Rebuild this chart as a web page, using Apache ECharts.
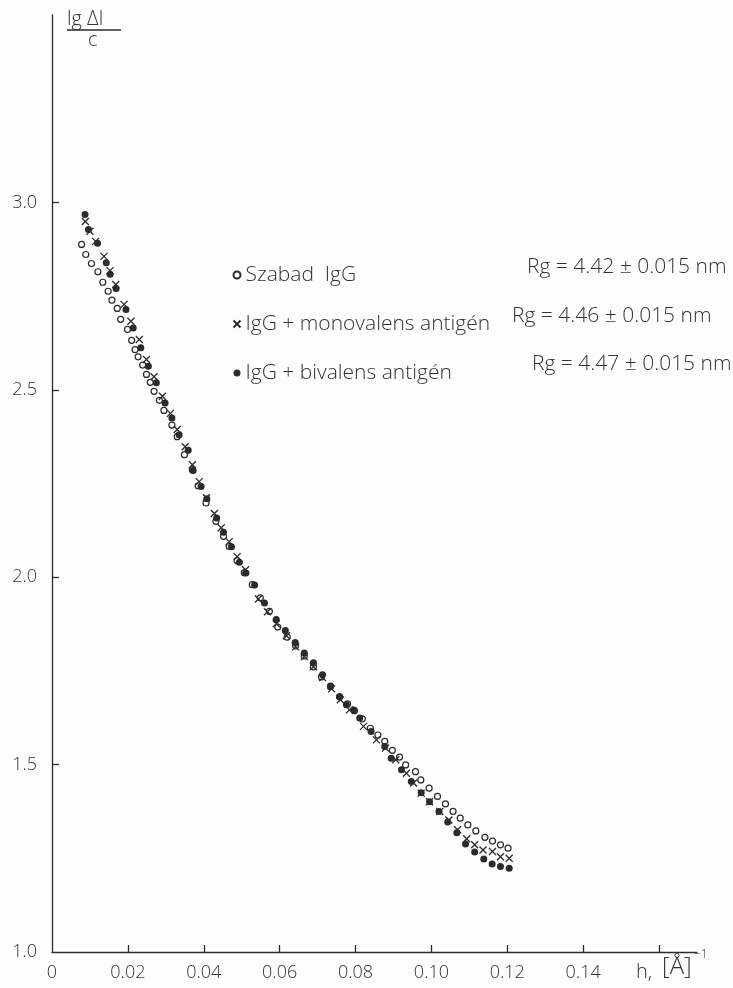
<!DOCTYPE html>
<html><head><meta charset="utf-8">
<script src="https://cdn.jsdelivr.net/npm/echarts@6/dist/echarts.min.js"></script>
<style>html,body{margin:0;padding:0;background:#fdfdfb}#c{width:733px;height:988px}</style>
</head><body><div id="c"></div>
<script>
// ---- data ----
const seriesNames = ['Szabad  IgG', 'IgG + monovalens antigén', 'IgG + bivalens antigén'];
const rgLabels = ['Rg = 4.42 ± 0.015 nm', 'Rg = 4.46 ± 0.015 nm', 'Rg = 4.47 ± 0.015 nm'];

const szabadX = [0.0078,0.0089,0.0104,0.0121,0.0134,0.0148,0.0158,0.0172,0.0181,0.0199,0.0210,0.0219,0.0227,0.0239,0.0249,0.0259,0.0269,0.0283,0.0295,0.0316,0.0330,0.0349,0.0370,0.0385,0.0406,0.0432,0.0452,0.0467,0.0488,0.0507,0.0528,0.0549,0.0573,0.0595,0.0620,0.0642,0.0665,0.0689,0.0710,0.0734,0.0758,0.0779,0.0797,0.0818,0.0839,0.0859,0.0877,0.0897,0.0916,0.0932,0.0958,0.0972,0.0994,0.1016,0.1037,0.1057,0.1076,0.1096,0.1117,0.1141,0.1161,0.1182,0.1202];
const szabadY = [2.888,2.861,2.837,2.815,2.787,2.763,2.739,2.717,2.688,2.661,2.632,2.607,2.588,2.566,2.541,2.520,2.496,2.472,2.445,2.406,2.375,2.327,2.287,2.244,2.198,2.149,2.109,2.082,2.044,2.012,1.980,1.945,1.909,1.867,1.840,1.817,1.790,1.761,1.734,1.708,1.681,1.662,1.644,1.622,1.597,1.579,1.562,1.538,1.520,1.499,1.481,1.459,1.437,1.415,1.395,1.375,1.357,1.339,1.323,1.306,1.296,1.286,1.277];

const monoX = [0.0088,0.0100,0.0115,0.0137,0.0153,0.0168,0.0190,0.0208,0.0230,0.0249,0.0269,0.0291,0.0312,0.0330,0.0351,0.0370,0.0388,0.0407,0.0428,0.0446,0.0467,0.0488,0.0510,0.0544,0.0568,0.0591,0.0618,0.0642,0.0665,0.0689,0.0713,0.0737,0.0760,0.0784,0.0821,0.0855,0.0879,0.0906,0.0934,0.0953,0.0973,0.0995,0.1022,0.1046,0.1069,0.1093,0.1114,0.1136,0.1161,0.1182,0.1205];
const monoY = [2.949,2.923,2.896,2.856,2.818,2.781,2.728,2.683,2.634,2.581,2.535,2.483,2.437,2.394,2.348,2.300,2.255,2.212,2.170,2.132,2.095,2.055,2.020,1.942,1.908,1.876,1.844,1.814,1.788,1.761,1.732,1.702,1.673,1.646,1.602,1.566,1.544,1.513,1.477,1.451,1.424,1.401,1.375,1.352,1.326,1.302,1.286,1.272,1.268,1.254,1.250];

const bivX = [0.0087,0.0096,0.0120,0.0143,0.0153,0.0169,0.0195,0.0214,0.0234,0.0254,0.0275,0.0298,0.0316,0.0335,0.0359,0.0372,0.0393,0.0408,0.0434,0.0452,0.0473,0.0494,0.0511,0.0534,0.0560,0.0591,0.0615,0.0641,0.0665,0.0689,0.0713,0.0734,0.0758,0.0776,0.0795,0.0811,0.0841,0.0877,0.0894,0.0921,0.0947,0.0973,0.0995,0.1020,0.1043,0.1067,0.1090,0.1114,0.1138,0.1160,0.1182,0.1205];
const bivY = [2.968,2.928,2.891,2.839,2.808,2.770,2.714,2.665,2.612,2.563,2.519,2.465,2.425,2.380,2.339,2.285,2.242,2.209,2.158,2.120,2.081,2.040,2.011,1.979,1.931,1.887,1.858,1.826,1.798,1.772,1.740,1.710,1.681,1.660,1.646,1.624,1.588,1.548,1.517,1.486,1.455,1.425,1.401,1.375,1.347,1.318,1.288,1.267,1.248,1.235,1.228,1.2235];

const xTickValues = [0.02,0.04,0.06,0.08,0.10,0.12,0.14,0.16];
const xLabelValues = [0,0.02,0.04,0.06,0.08,0.10,0.12,0.14];
const xTickLabels = ['0','0.02','0.04','0.06','0.08','0.10','0.12','0.14'];
const yTickValues = [1.5,2.0,2.5,3.0];
const yLabelValues = [1.0,1.5,2.0,2.5,3.0];
const yTickLabels = ['1.0','1.5','2.0','2.5','3.0'];

// ---- chart ----
const FONT = '"Open Sans", "DejaVu Sans", sans-serif';
const INK = '#2b2b2b';
const TXT = '#333333';
const zip = (a, b) => a.map((v, i) => [v, b[i]]);
const chart = echarts.init(document.getElementById('c'), null, {renderer: 'canvas'});
const lblFmt = (vals, labels) => (v) => {
  const i = vals.findIndex(t => Math.abs(t - v) < 1e-9);
  return i >= 0 ? labels[i] : '';
};
const xPath = 'path://M0,0L10,10M10,0L0,10';
chart.setOption({
  backgroundColor: '#fdfdfb',
  animation: false,
  textStyle: {fontFamily: FONT},
  grid: {left: 52, right: 36, top: 15, bottom: 36, containLabel: false},
  xAxis: {
    type: 'value', min: 0, max: 0.17,
    axisLine: {show: true, onZero: false, lineStyle: {color: INK, width: 1.3}},
    axisTick: {show: true, inside: true, length: 7, customValues: xTickValues, lineStyle: {color: INK, width: 1.3}},
    axisLabel: {customValues: xLabelValues, formatter: lblFmt(xLabelValues, xTickLabels), margin: 12,
      fontFamily: FONT, fontWeight: 300, fontSize: 18, color: TXT},
    splitLine: {show: false}
  },
  yAxis: {
    type: 'value', min: 1.0, max: 3.5,
    axisLine: {show: true, onZero: false, lineStyle: {color: INK, width: 1.3}},
    axisTick: {show: true, inside: true, length: 7, customValues: yTickValues, lineStyle: {color: INK, width: 1.3}},
    axisLabel: {customValues: yLabelValues, formatter: lblFmt(yLabelValues, yTickLabels), margin: 15,
      fontFamily: FONT, fontWeight: 300, fontSize: 18, color: TXT},
    splitLine: {show: false}
  },
  legend: {
    orient: 'vertical', left: 226, top: 258, itemGap: 25, itemWidth: 7, itemHeight: 7, itemTextGap: 30,
    selectedMode: false,
    data: seriesNames,
    textStyle: {fontFamily: FONT, fontWeight: 300, fontSize: 21, color: TXT, lineHeight: 24}
  },
  series: [
    {name: seriesNames[0], type: 'scatter', data: zip(szabadX, szabadY), symbol: 'circle', symbolSize: 6,
      itemStyle: {color: '#fdfdfb', borderColor: INK, borderWidth: 1.2, opacity: 1}, z: 2},
    {name: seriesNames[1], type: 'scatter', data: zip(monoX, monoY), symbol: xPath, symbolSize: 7,
      itemStyle: {color: 'none', borderColor: INK, borderWidth: 1.3, opacity: 1}, z: 3},
    {name: seriesNames[2], type: 'scatter', data: zip(bivX, bivY), symbol: 'circle', symbolSize: 7,
      itemStyle: {color: INK, opacity: 1}, z: 4}
  ],
  graphic: [
    {type: 'text', left: 67, top: 9, style: {text: 'lg ΔI', font: '300 20px ' + FONT, fill: TXT}},
    {type: 'line', shape: {x1: 67, y1: 30, x2: 121, y2: 30}, style: {stroke: INK, lineWidth: 1.3}},
    {type: 'text', left: 88, top: 30, style: {text: 'c', font: '300 20px ' + FONT, fill: TXT}},
    {type: 'text', left: 636, top: 962, style: {text: 'h,', font: '300 20px ' + FONT, fill: TXT}},
    {type: 'text', left: 662, top: 955, style: {text: '[Å]', font: '300 24px ' + FONT, fill: TXT}},
    {type: 'text', left: 694, top: 949, style: {text: '−1', font: '300 12px ' + FONT, fill: TXT}},
    {type: 'text', left: 527, top: 257, style: {text: rgLabels[0], font: '300 21px ' + FONT, fill: TXT}},
    {type: 'text', left: 512, top: 306, style: {text: rgLabels[1], font: '300 21px ' + FONT, fill: TXT}},
    {type: 'text', left: 532, top: 354, style: {text: rgLabels[2], font: '300 21px ' + FONT, fill: TXT}}
  ]
});
</script></body></html>
